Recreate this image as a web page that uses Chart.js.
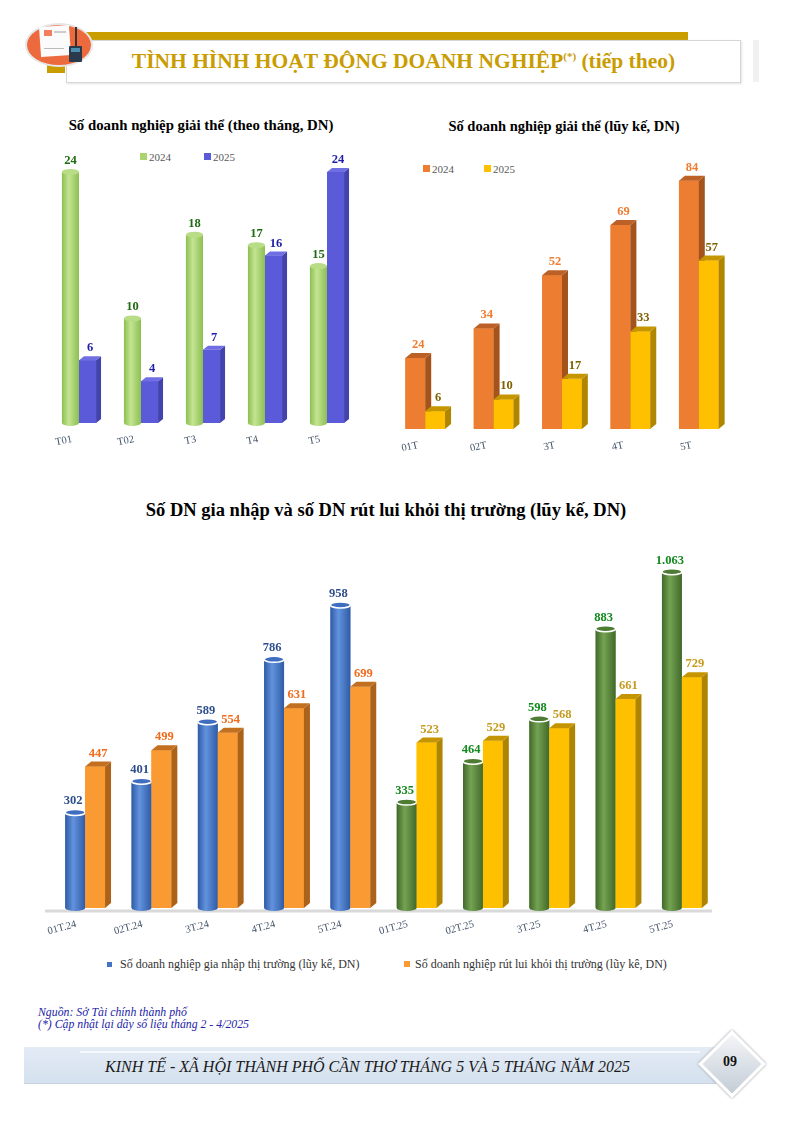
<!DOCTYPE html>
<html>
<head>
<meta charset="utf-8">
<script src="https://cdn.jsdelivr.net/npm/chart.js@4.4.1/dist/chart.umd.min.js"></script>
<style>
body { margin: 0; width: 794px; height: 1122px; position: relative; background: #fff; overflow: hidden;
       font-family: 'Liberation Serif', 'Times New Roman', serif; }
.abs { position: absolute; }
.title { position: absolute; font-weight: bold; color: #000; white-space: nowrap; transform: translateX(-50%); }
.leg { position: absolute; font-size: 11px; color: #595959; white-space: nowrap; }
.leg i { display: inline-block; width: 7px; height: 7px; margin-right: 2px; vertical-align: 1px; }
canvas { position: absolute; }
</style>
</head>
<body>

<!-- header -->
<div class="abs" style="left:47px;top:32px;width:641px;height:8px;background:#C99C00"></div>
<div class="abs" style="left:47px;top:56px;width:18px;height:17px;background:#C99C00"></div>
<div class="abs" style="left:66px;top:40px;width:673px;height:41px;background:#fff;border:1px solid #d6d6d6;box-shadow:1px 1px 2px #e4e4e4"></div>
<div class="abs" style="left:66px;top:40px;width:675px;height:43px;line-height:43px;text-align:center;color:#C99C00;font-weight:bold;font-size:21.5px;white-space:nowrap">TÌNH HÌNH HOẠT ĐỘNG DOANH NGHIỆP<sup style="font-size:11px;line-height:0">(*)</sup> (tiếp theo)</div>
<div class="abs" style="left:753px;top:40px;width:6px;height:42px;background:#f1f1f1"></div>
<div class="abs" style="left:25px;top:23px;width:64px;height:40px;border-radius:50%;background:#ED6A3F;border:2px solid #e6e6e6"></div>
<div class="abs" style="left:40px;top:26px;width:30px;height:30px;background:#fbfbfb;transform:rotate(-4deg)"></div>
<div class="abs" style="left:44px;top:30px;width:8px;height:6px;background:#F08060"></div>
<div class="abs" style="left:54px;top:31px;width:12px;height:2px;background:#ccc"></div>
<div class="abs" style="left:44px;top:40px;width:20px;height:8px;border-bottom:1px solid #bbb"></div>
<div class="abs" style="left:69px;top:46px;width:13px;height:16px;background:#2B3A4A;border-radius:1px"></div>
<div class="abs" style="left:71px;top:48px;width:9px;height:4px;background:#4A8FB0"></div>
<div class="abs" style="left:75px;top:27px;width:2px;height:19px;background:#333"></div>

<!-- top-left chart -->
<div class="title" style="left:201px;top:117px;font-size:14.8px">Số doanh nghiệp giải thể (theo tháng, DN)</div>
<div class="leg" style="left:140px;top:151px"><i style="background:#A9D46F"></i>2024</div>
<div class="leg" style="left:204px;top:151px"><i style="background:#5B5BD9"></i>2025</div>
<canvas id="chartMonthly" width="380" height="320" style="left:0;top:140px"></canvas>

<!-- top-right chart -->
<div class="title" style="left:564px;top:118px;font-size:14.5px">Số doanh nghiệp giải thể (lũy kế, DN)</div>
<div class="leg" style="left:423px;top:163px"><i style="background:#ED7D31"></i>2024</div>
<div class="leg" style="left:484px;top:163px"><i style="background:#FFC000"></i>2025</div>
<canvas id="chartCumulative" width="400" height="320" style="left:380px;top:140px"></canvas>

<!-- bottom chart -->
<div class="title" style="left:386px;top:500px;font-size:18.5px">Số DN gia nhập và số DN rút lui khỏi thị trường (lũy kế, DN)</div>
<canvas id="chartMarket" width="794" height="410" style="left:0;top:540px"></canvas>
<div class="leg" style="left:107px;top:957px;font-size:12px;color:#333"><i style="background:#4472C4;width:5px;height:5px;margin-right:8px"></i>Số doanh nghiệp gia nhập thị trường (lũy kế, DN)</div>
<div class="leg" style="left:404px;top:957px;font-size:12px;color:#333"><i style="background:#F99A33;width:6px;height:6px;margin-right:5px"></i>Số doanh nghiệp rút lui khỏi thị trường (lũy kê, DN)</div>

<!-- footnotes -->
<div class="abs" style="left:38px;top:1006px;font-size:11.8px;font-style:italic;color:#2424A8;line-height:12px">Nguồn: Sở Tài chính thành phố<br>(*) Cập nhật lại dãy số liệu tháng 2 - 4/2025</div>

<!-- footer -->
<div class="abs" style="left:24px;top:1047px;width:692px;height:36px;background:linear-gradient(#e3ebf5,#d5e1ef);border-bottom:1px solid #c8d3e0"></div>
<div class="abs" style="left:80px;top:1051px;width:620px;height:2px;background:#f6f9fc"></div>
<div class="abs" style="left:24px;top:1047px;width:692px;height:38px;line-height:40px;text-align:center;font-style:italic;font-size:16px;color:#1a1a1a;padding-right:5px;box-sizing:border-box">KINH TẾ - XÃ HỘI THÀNH PHỐ CẦN THƠ THÁNG 5 VÀ 5 THÁNG NĂM 2025</div>
<div class="abs" style="left:708px;top:1040px;width:42px;height:42px;transform:rotate(45deg);background:linear-gradient(135deg,#f4f6f8,#c3ccd6);border:3px solid #fff;box-shadow:0 0 3px #999"></div>
<div class="abs" style="left:700px;top:1050px;width:60px;height:24px;line-height:24px;text-align:center;font-weight:bold;font-size:14px;color:#111">09</div>

<script>
// monthly dissolved enterprises
var monthLabels = ['T01', 'T02', 'T3', 'T4', 'T5'];
var monthly2024 = [24, 10, 18, 17, 15];
var monthly2025 = [6, 4, 7, 16, 24];

// cumulative dissolved enterprises
var cumLabels = ['01T', '02T', '3T', '4T', '5T'];
var cum2024 = [24, 34, 52, 69, 84];
var cum2025 = [6, 10, 17, 33, 57];

// entering / exiting the market (cumulative)
var marketLabels = ['01T.24', '02T.24', '3T.24', '4T.24', '5T.24', '01T.25', '02T.25', '3T.25', '4T.25', '5T.25'];
var entered = [302, 401, 589, 786, 958, 335, 464, 598, 883, 1063];
var exited = [447, 499, 554, 631, 699, 523, 529, 568, 661, 729];

var serif = "'Liberation Serif', 'Times New Roman', serif";

function pick(v, i) {
    return Array.isArray(v) ? v[i] : v;
}

function pickCyl(v, i) {
    return Array.isArray(v[0]) ? v[i] : v;
}

function fmt(v) {
    return String(v).replace(/\B(?=(\d{3})+(?!\d))/g, '.');
}

// fake 3D faces for bars: box side/top or cylinder shading, then value labels
var bar3d = {
    id: 'bar3d',
    beforeDatasetsDraw: function (chart, args, opts) {
        if (!opts.baseLine) return;
        var ctx = chart.ctx;
        var y = chart.scales.y.getPixelForValue(0) + 3;
        ctx.save();
        ctx.strokeStyle = '#d9d9d9';
        ctx.lineWidth = 3;
        ctx.beginPath();
        ctx.moveTo(chart.chartArea.left - 7, y);
        ctx.lineTo(chart.chartArea.right - 3, y);
        ctx.stroke();
        ctx.restore();
    },
    afterDatasetsDraw: function (chart, args, opts) {
        var ctx = chart.ctx;
        // faces, left dataset first so the right one overlaps its side
        chart.data.datasets.forEach(function (ds, di) {
            chart.getDatasetMeta(di).data.forEach(function (bar, i) {
                var p = bar.getProps(['x', 'y', 'base', 'width'], true);
                var x0 = p.x - p.width / 2, x1 = p.x + p.width / 2;
                ctx.save();
                if (ds.shape === 'cylinder') {
                    var c = pickCyl(ds.cyl, i);
                    var rx = p.width / 2, ry = ds.ellipse;
                    var g = ctx.createLinearGradient(x0, 0, x1, 0);
                    g.addColorStop(0, c[0]);
                    g.addColorStop(0.4, c[1]);
                    g.addColorStop(1, c[0]);
                    ctx.fillStyle = g;
                    ctx.beginPath();
                    ctx.moveTo(x0, p.y);
                    ctx.lineTo(x0, p.base);
                    ctx.ellipse(p.x, p.base, rx, ry, 0, Math.PI, 0, true);
                    ctx.lineTo(x1, p.y);
                    ctx.closePath();
                    ctx.fill();
                    ctx.fillStyle = c[2];
                    ctx.beginPath();
                    ctx.ellipse(p.x, p.y, rx, ry, 0, 0, Math.PI * 2);
                    ctx.fill();
                    if (c[3]) {
                        ctx.strokeStyle = c[3];
                        ctx.lineWidth = 1.5;
                        ctx.stroke();
                    }
                } else {
                    var dx = ds.depth[0], dy = ds.depth[1];
                    bar.draw(ctx, chart.chartArea);
                    ctx.fillStyle = pick(ds.sideColor, i);
                    ctx.beginPath();
                    ctx.moveTo(x1, p.y);
                    ctx.lineTo(x1 + dx, p.y - dy);
                    ctx.lineTo(x1 + dx, p.base - dy);
                    ctx.lineTo(x1, p.base);
                    ctx.closePath();
                    ctx.fill();
                    ctx.fillStyle = pick(ds.topColor, i);
                    ctx.beginPath();
                    ctx.moveTo(x0, p.y);
                    ctx.lineTo(x0 + dx, p.y - dy);
                    ctx.lineTo(x1 + dx, p.y - dy);
                    ctx.lineTo(x1, p.y);
                    ctx.closePath();
                    ctx.fill();
                }
                ctx.restore();
            });
        });
        // value labels
        ctx.save();
        ctx.font = 'bold ' + (opts.fontSize || 12) + 'px ' + serif;
        ctx.textAlign = 'center';
        ctx.textBaseline = 'bottom';
        chart.data.datasets.forEach(function (ds, di) {
            chart.getDatasetMeta(di).data.forEach(function (bar, i) {
                var p = bar.getProps(['x', 'y'], true);
                var lx = p.x, ly;
                if (ds.shape === 'cylinder') {
                    ly = p.y - ds.ellipse - 2;
                } else {
                    lx += ds.depth[0] / 2;
                    ly = p.y - ds.depth[1] - 2;
                }
                lx += ds.labelShift || 0;
                ctx.fillStyle = pick(ds.labelColor, i);
                ctx.fillText(fmt(ds.data[i]), lx, ly);
            });
        });
        ctx.restore();
    }
};

function baseOptions(yMax, pad, axisH, tickPad, rot, offset, lblSize) {
    return {
        responsive: false,
        animation: false,
        events: [],
        layout: { padding: pad },
        plugins: {
            legend: { display: false },
            tooltip: { enabled: false },
            bar3d: {}
        },
        scales: {
            x: {
                grid: { display: false, drawTicks: false },
                border: { display: false },
                ticks: {
                    color: '#44546A',
                    font: { family: serif, size: lblSize },
                    minRotation: rot,
                    maxRotation: rot,
                    padding: tickPad,
                    labelOffset: offset,
                    autoSkip: false
                },
                afterFit: function (scale) { scale.height = axisH; }
            },
            y: { display: false, min: 0, max: yMax }
        }
    };
}

// chart 1
var opt1 = baseOptions(26, { left: 48, right: 22, top: 11, bottom: 7 }, 30, 10, 12, -7, 10.5);
opt1.plugins.bar3d = { fontSize: 12.5 };
new Chart(document.getElementById('chartMonthly'), {
    type: 'bar',
    data: {
        labels: monthLabels,
        datasets: [{
            label: '2024',
            data: monthly2024,
            backgroundColor: '#A9D46F',
            shape: 'cylinder',
            ellipse: 3,
            cyl: ['#8CBF52', '#C4E492', '#B9DD86'],
            labelColor: '#1F6B12',
            barPercentage: 1,
            categoryPercentage: 0.55
        }, {
            label: '2025',
            data: monthly2025,
            backgroundColor: '#5B5BD9',
            shape: 'box',
            depth: [5, 4],
            sideColor: '#4343AE',
            topColor: '#6F6FE3',
            labelColor: '#1E1EA6',
            barPercentage: 1,
            categoryPercentage: 0.55
        }]
    },
    options: opt1,
    plugins: [bar3d]
});

// chart 2
var opt2 = baseOptions(90, { left: 11, right: 47, top: 23, bottom: 6 }, 25, 10, 12, -7, 10.5);
opt2.plugins.bar3d = { fontSize: 12.5 };
new Chart(document.getElementById('chartCumulative'), {
    type: 'bar',
    data: {
        labels: cumLabels,
        datasets: [{
            label: '2024',
            data: cum2024,
            backgroundColor: '#ED7D31',
            shape: 'box',
            depth: [6, 5],
            sideColor: '#A4531D',
            topColor: '#BC6026',
            labelColor: '#ED7D31',
            barPercentage: 1,
            categoryPercentage: 0.58
        }, {
            label: '2025',
            data: cum2025,
            backgroundColor: '#FFC000',
            shape: 'box',
            depth: [6, 5],
            sideColor: '#B08500',
            topColor: '#C59600',
            labelColor: '#7F6000',
            barPercentage: 1,
            categoryPercentage: 0.58
        }]
    },
    options: opt2,
    plugins: [bar3d]
});

// chart 3
var is2024 = marketLabels.map(function (l) { return /\.24$/.test(l); });
var opt3 = baseOptions(1100, { left: 52, right: 79, top: 20, bottom: 16 }, 26, 10, 15, -9, 10.5);
opt3.plugins.bar3d = { baseLine: true, fontSize: 12.5 };
new Chart(document.getElementById('chartMarket'), {
    type: 'bar',
    data: {
        labels: marketLabels,
        datasets: [{
            label: 'Số doanh nghiệp gia nhập thị trường (lũy kế, DN)',
            data: entered,
            backgroundColor: is2024.map(function (b) { return b ? '#4472C4' : '#5B8A3C'; }),
            shape: 'cylinder',
            ellipse: 3,
            cyl: is2024.map(function (b) {
                return b ? ['#2F5BA6', '#6393DE', '#3F6DC0', '#ffffff'] : ['#41692A', '#74A352', '#4E7C33', '#ffffff'];
            }),
            labelColor: is2024.map(function (b) { return b ? '#2E4E8C' : '#128A1E'; }),
            labelShift: -2,
            barPercentage: 1,
            categoryPercentage: 0.6
        }, {
            label: 'Số doanh nghiệp rút lui khỏi thị trường (lũy kế, DN)',
            data: exited,
            backgroundColor: is2024.map(function (b) { return b ? '#F99A33' : '#FFC000'; }),
            shape: 'box',
            depth: [6, 5],
            sideColor: is2024.map(function (b) { return b ? '#AD6219' : '#AE8400'; }),
            topColor: is2024.map(function (b) { return b ? '#C2701F' : '#C49500'; }),
            labelColor: is2024.map(function (b) { return b ? '#F26A1B' : '#C59A1E'; }),
            barPercentage: 1,
            categoryPercentage: 0.6
        }]
    },
    options: opt3,
    plugins: [bar3d]
});
</script>
</body>
</html>
